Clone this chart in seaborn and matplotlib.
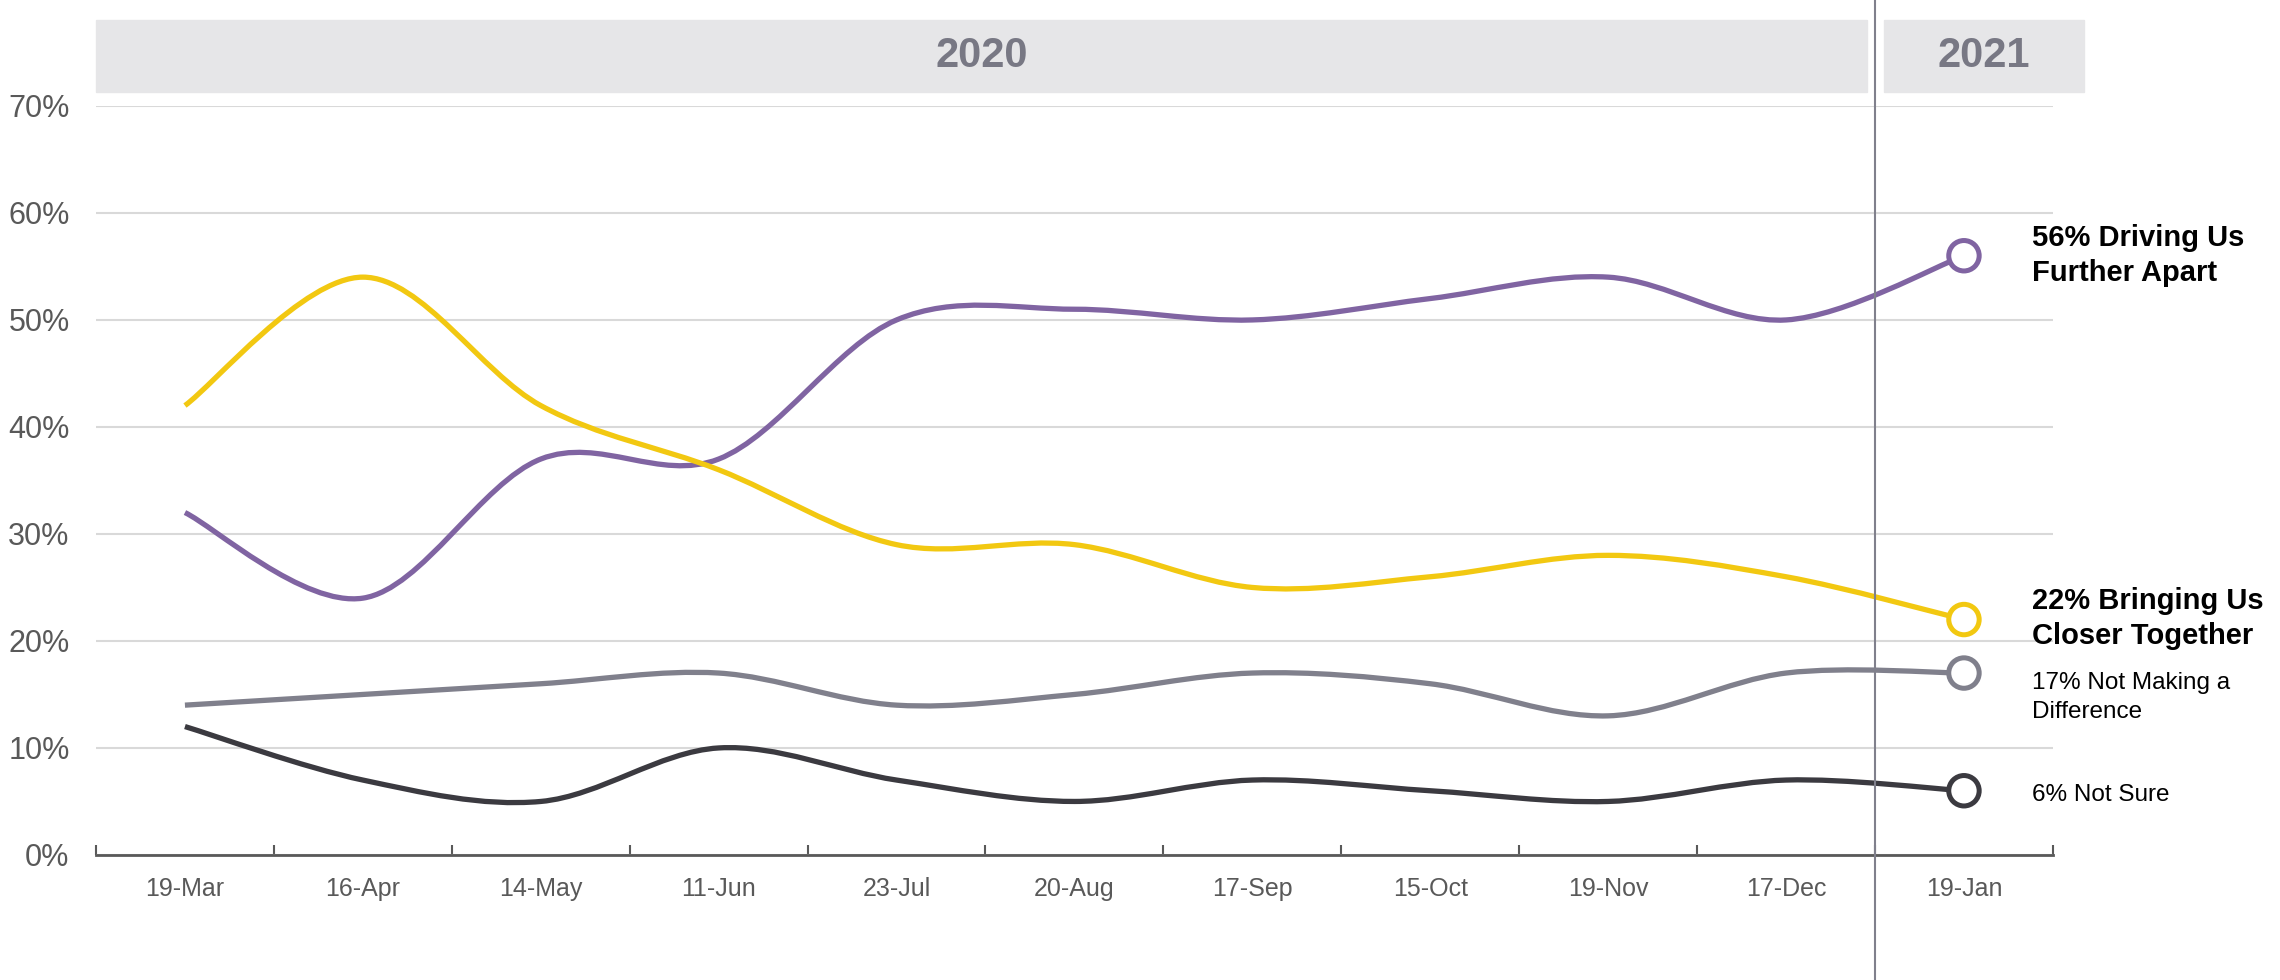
import matplotlib
matplotlib.use("Agg")
import matplotlib.pyplot as plt
import seaborn as sns
import pandas as pd
import numpy as np
from matplotlib.path import Path
from matplotlib.patches import PathPatch, Rectangle
from matplotlib.transforms import blended_transform_factory

sns.set_theme(style="white")
plt.rcParams["font.family"] = ["Liberation Sans", "DejaVu Sans"]

# данные
dates = ["19-Mar", "16-Apr", "14-May", "11-Jun", "23-Jul", "20-Aug",
         "17-Sep", "15-Oct", "19-Nov", "17-Dec", "19-Jan"]
apart = [32, 24, 37, 37, 50, 51, 50, 52, 54, 50, 56]
closer = [42, 54, 42, 36, 29, 29, 25, 26, 28, 26, 22]
no_diff = [14, 15, 16, 17, 14, 15, 17, 16, 13, 17, 17]
not_sure = [12, 7, 5, 10, 7, 5, 7, 6, 5, 7, 6]

series_names = ["Driving Us Further Apart", "Bringing Us Closer Together",
                "Not Making a Difference", "Not Sure"]
end_labels = ["56% Driving Us\nFurther Apart", "22% Bringing Us\nCloser Together",
              "17% Not Making a\nDifference", "6% Not Sure"]
years = ["2020", "2021"]

colors = ["#8064A2", "#F2C811", "#80808C", "#3B3A40"]
label_y = [56, 22.1, 14.7, 5.6]
label_bold = [True, True, False, False]

df = pd.DataFrame({
    "x": list(range(len(dates))) * 4,
    "value": apart + closer + no_diff + not_sure,
    "series": [s for s in series_names for _ in dates],
})


def smooth_path(xs, ys):
    # сглаживание как в Excel (кривые Безье)
    pts = np.column_stack([xs, ys]).astype(float)
    n = len(pts)
    verts = [pts[0]]
    codes = [Path.MOVETO]
    for i in range(n - 1):
        p_prev = pts[max(i - 1, 0)]
        p0, p1 = pts[i], pts[i + 1]
        p_next = pts[min(i + 2, n - 1)]
        verts += [p0 + (p1 - p_prev) / 6, p1 - (p_next - p0) / 6, p1]
        codes += [Path.CURVE4] * 3
    return Path(verts, codes)


fig = plt.figure(figsize=(22.8, 9.8), dpi=100)
ax = fig.add_axes([0.0421, 0.1276, 0.8583, 0.7643])

for name, color in zip(series_names, colors):
    sub = df[df["series"] == name]
    ax.add_patch(PathPatch(smooth_path(sub["x"], sub["value"]),
                           facecolor="none", edgecolor=color, lw=3.8, zorder=3))

# последние точки — пустые кружки
last = df[df["x"] == len(dates) - 1]
sns.scatterplot(data=last, x="x", y="value", hue="series",
                palette=dict(zip(series_names, colors)), s=480,
                linewidth=3.6, legend=False, zorder=4, ax=ax)
coll = ax.collections[-1]
coll.set_edgecolors(coll.get_facecolors())
coll.set_facecolors("white")

for text, y, bold in zip(end_labels, label_y, label_bold):
    ax.text(10.38, y, text, ha="left", va="center", color="black",
            fontsize=21 if bold else 17.5, fontweight="bold" if bold else "normal",
            linespacing=1.3 if bold else 1.4, clip_on=False)

# шапка с годами
trans = blended_transform_factory(ax.transData, fig.transFigure)
ax.add_patch(Rectangle((-0.5, 0.906), 9.955, 0.0735, transform=trans,
                       color="#E6E6E8", clip_on=False, zorder=0))
ax.add_patch(Rectangle((9.55, 0.906), 1.125, 0.0735, transform=trans,
                       color="#E6E6E8", clip_on=False, zorder=0))
ax.text(4.48, 0.943, years[0], transform=trans, ha="center", va="center",
        fontsize=30, fontweight="bold", color="#787884")
ax.text(10.11, 0.943, years[1], transform=trans, ha="center", va="center",
        fontsize=30, fontweight="bold", color="#787884")
ax.plot([9.5, 9.5], [0, 1], transform=trans, color="#80808C", lw=1.5,
        clip_on=False, zorder=5)

ax.set_xlim(-0.5, 10.5)
ax.set_ylim(0, 70)
ax.set_xticks(range(len(dates)))
ax.set_xticklabels(dates)
ax.set_xticks(np.arange(-0.5, len(dates), 1), minor=True)
ax.set_yticks(range(0, 80, 10))
ax.set_yticklabels([f"{v}%" for v in range(0, 80, 10)])
ax.tick_params(axis="x", which="major", length=0, pad=16, labelsize=18,
               labelcolor="#595959")
ax.tick_params(axis="x", which="minor", direction="in", length=7, width=1.5,
               color="#595959", bottom=True)
ax.tick_params(axis="y", length=0, pad=19, labelsize=22, labelcolor="#595959")
ax.set_xlabel("")
ax.set_ylabel("")

ax.yaxis.grid(True, color="#D9D9D9", lw=1.5)
ax.set_axisbelow(True)
for side in ["left", "top", "right"]:
    ax.spines[side].set_visible(False)
ax.spines["bottom"].set_color("#595959")
ax.spines["bottom"].set_linewidth(2)

plt.savefig("out.png", dpi=100)
